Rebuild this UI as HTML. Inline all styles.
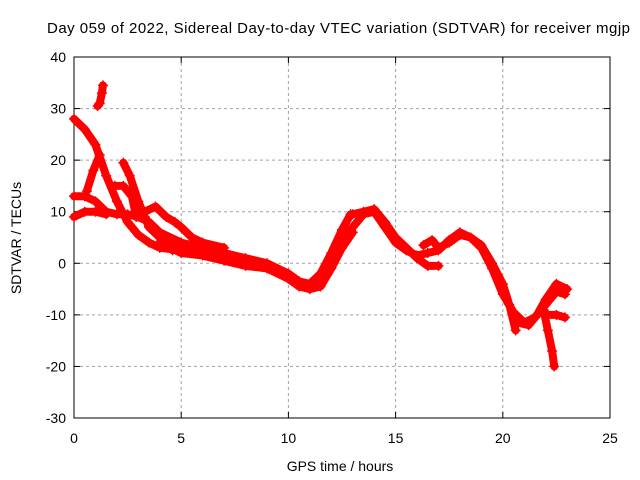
<!DOCTYPE html>
<html><head><meta charset="utf-8"><style>
body{margin:0;background:#fff}
svg{display:block;font-family:"Liberation Sans",sans-serif}
</style></head><body>
<svg id="c" width="640" height="480"></svg>
<script>
const xTicks=[0,5,10,15,20,25];
const yTicks=[-30,-20,-10,0,10,20,30,40];
const track1=[[0,28],[0.5,26],[1,23],[1.5,17],[2,12],[2.5,8],[3,5.5],[3.5,4],[4,3],[5,2.5],[6,2],[7,1],[8,0],[9,-0.5],[10,-2.5],[10.5,-4],[11,-4.5],[11.5,-3.5],[12,0],[12.5,4],[13,7],[13.5,9.5],[14,10],[14.5,7],[15,4],[15.5,2.5],[16,1.5],[16.5,2],[17,2.5],[17.5,4.5],[18,6],[18.5,5],[19,3],[19.5,-1],[20,-6],[20.5,-9.5],[21,-11.5],[21.5,-10.5],[22,-8],[22.5,-5.5],[22.9,-6]];
const track2=[[0,13],[0.5,13],[1,12],[1.5,10],[2,9.5],[2.5,9.5],[3,9],[3.5,8],[4,6],[5,4],[6,3],[7,2],[8,1],[9,0],[10,-2],[10.5,-3.5],[11,-4],[11.5,-2],[12,2],[12.5,6.5],[12.9,9.5]];
const track3=[[0,9],[0.5,10],[1,10],[1.5,9.5]];
const track4=[[0.6,14],[0.9,18],[1.2,21]];
const track5=[[2.3,19.5],[2.6,17],[3,12],[3.3,9],[3.5,7],[4,5],[4.5,3.5],[5,3]];
const track6=[[1.9,15],[2.3,15],[2.7,13],[2.9,9]];
const track7=[[3.3,10],[3.8,11],[4.3,9],[4.7,8],[5,7],[5.5,5],[6,4],[7,3]];
const track8=[[4.35,4],[4.6,2.5]];
const track9=[[1.1,30.5],[1.2,31],[1.3,33],[1.35,34.5]];
const track10=[[13,9.5],[13.5,10],[14,10.5],[14.5,8],[15,5],[15.5,3],[16,1],[16.5,-0.5],[17,-0.5]];
const track11=[[16.3,3.5],[16.7,4.5],[17,3],[17.5,4],[18,5.5],[18.5,5],[19,3.5],[19.5,0],[20,-4],[20.3,-8],[20.6,-13]];
const track12=[[20.7,-11.5],[21.2,-12],[21.6,-10],[22,-7],[22.5,-4],[23,-5]];
const track13=[[21.9,-9],[22.1,-13],[22.3,-17],[22.4,-20]];
const track14=[[22.1,-10],[22.5,-10],[22.9,-10.5]];
const track15=[[4,4],[5,2],[6,1.5],[7,0.5],[8,-0.5],[9,-1],[10,-3],[10.5,-4.5],[11,-5],[11.5,-4.5],[12,-1],[12.5,3],[13,6]];
const tracks=[track1,track2,track3,track4,track5,track6,track7,track8,track9,track10,track11,track12,track13,track14,track15];
const X0=74,X1=610,Y0=418,Y1=57;
const sx=h=>X0+(h-0)/(25-0)*(X1-X0);
const sy=v=>Y0-(v+30)/(70)*(Y0-Y1);
const svg=document.getElementById('c');const NS='http://www.w3.org/2000/svg';
function mk(t,a,p){const e=document.createElementNS(NS,t);for(const k in a)e.setAttribute(k,a[k]);(p||svg).appendChild(e);return e;}
xTicks.forEach(t=>{const x=sx(t);
 if(t>0&&t<25){const g=mk('line',{x1:x,y1:Y1,x2:x,y2:Y0,stroke:'#a0a0a0','stroke-dasharray':'3,3'});
 }
 mk('line',{x1:x,y1:Y0,x2:x,y2:Y0-6,stroke:'#000'});mk('line',{x1:x,y1:Y1,x2:x,y2:Y1+6,stroke:'#000'});
 const l=mk('text',{x:x,y:443,'font-size':14,'text-anchor':'middle'});l.textContent=t;
 });
yTicks.forEach(t=>{const y=sy(t);
 if(t>-30&&t<40){const g=mk('line',{x1:X0,y1:y,x2:X1,y2:y,stroke:'#a0a0a0','stroke-dasharray':'3,3'});
 }
 mk('line',{x1:X0,y1:y,x2:X0+6,y2:y,stroke:'#000'});mk('line',{x1:X1,y1:y,x2:X1-6,y2:y,stroke:'#000'});
 const l=mk('text',{x:X0-8,y:y+5,'font-size':14,'text-anchor':'end'});l.textContent=t;
 });
const fr=mk('rect',{x:X0,y:Y1,width:X1-X0,height:Y0-Y1,fill:'none',stroke:'#000'});

tracks.forEach(tr=>{
 const p=mk('polyline',{points:tr.map(d=>sx(d[0])+','+sy(d[1])).join(' '),fill:'none',stroke:'#f00','stroke-width':8,'stroke-linejoin':'round','stroke-linecap':'round'});
 
 tr.forEach(d=>{const x=sx(d[0]),y=sy(d[1]);
  mk('path',{d:`M${x-5},${y}H${x+5}M${x},${y-5}V${y+5}`,stroke:'#f00','stroke-width':1.5});});
});
const t=mk('text',{x:47,y:33,'font-size':15,textLength:583,lengthAdjust:'spacing'});t.textContent='Day 059 of 2022, Sidereal Day-to-day VTEC variation (SDTVAR) for receiver mgjp';

const xl=mk('text',{x:340,y:471,'font-size':14,'text-anchor':'middle'});xl.textContent='GPS time / hours';

const yl=mk('text',{x:0,y:0,'font-size':14,'text-anchor':'middle',transform:'translate(21,238) rotate(-90)'});yl.textContent='SDTVAR / TECUs';

</script>
</body></html>
